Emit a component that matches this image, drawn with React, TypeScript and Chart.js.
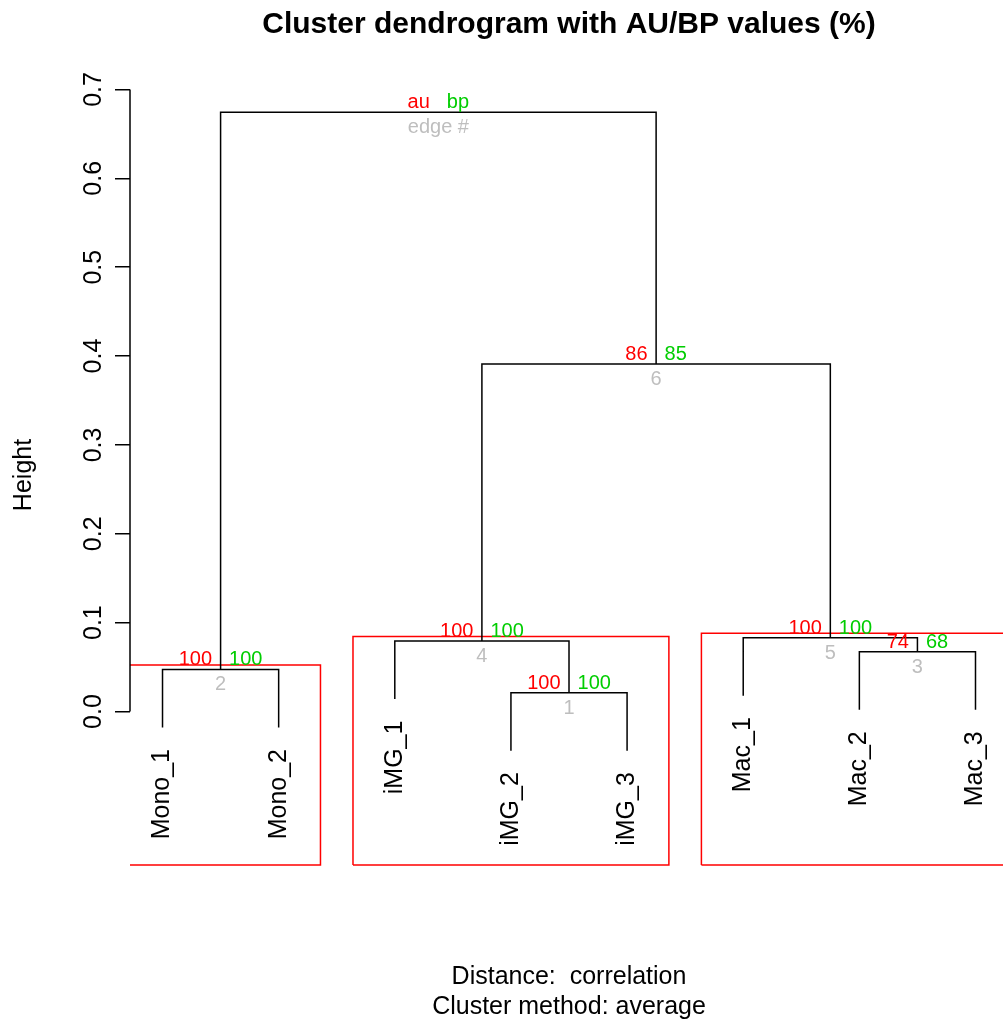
import { useEffect, useRef } from 'react';
import { Chart, registerables } from 'chart.js';

Chart.register(...registerables);

// Leaves in dendrogram order (left to right)
const leafLabels = ['Mono_1', 'Mono_2', 'iMG_1', 'iMG_2', 'iMG_3', 'Mac_1', 'Mac_2', 'Mac_3'];

// hclust-style merge table: negative = leaf index (1-based), positive = earlier merge (1-based)
const mergeLeft = [-4, -1, -7, -3, -6, 4, 2];
const mergeRight = [-5, -2, -8, 1, 3, 5, 6];
const mergeHeight = [0.0212, 0.0473, 0.0673, 0.0793, 0.0831, 0.391, 0.6743];

// Approximately unbiased / bootstrap probabilities (%) and edge numbers per merge
const auValues = [100, 100, 74, 100, 100, 86];
const bpValues = [100, 100, 68, 100, 100, 85];
const edgeNumbers = [1, 2, 3, 4, 5, 6];

// Root carries the legend of the three label kinds
const legendLabels = ['au', 'bp', 'edge #'];

// Merges highlighted with rectangles (clusters with au >= 95)
const highlightedMerges = [2, 4, 5];

const yTickValues = [0, 0.1, 0.2, 0.3, 0.4, 0.5, 0.6, 0.7];
const yTickLabels = ['0.0', '0.1', '0.2', '0.3', '0.4', '0.5', '0.6', '0.7'];

const titleText = 'Cluster dendrogram with AU/BP values (%)';
const yAxisTitle = 'Height';
const subLines = ['Distance:  correlation', 'Cluster method: average'];

const FONT = '"Liberation Sans", Arial, Helvetica, sans-serif';
const RED = '#FF0000';
const GREEN = '#00CD00';
const GREY = '#BEBEBE';

const W = 1003;
const H = 1021;

function nodeX(ref: number): number {
  if (ref < 0) return -ref;
  const i = ref - 1;
  return (nodeX(mergeLeft[i]) + nodeX(mergeRight[i])) / 2;
}

function leavesOf(ref: number): number[] {
  if (ref < 0) return [-ref];
  const i = ref - 1;
  return [...leavesOf(mergeLeft[i]), ...leavesOf(mergeRight[i])];
}

export default function App() {
  const canvasRef = useRef<HTMLCanvasElement | null>(null);

  useEffect(() => {
    const canvas = canvasRef.current;
    if (!canvas) return;

    const hang = 0.1 * (Math.max(...mergeHeight) - Math.min(...mergeHeight));
    const childBottom = (ref: number, parentH: number) =>
      ref < 0 ? parentH - hang : mergeHeight[ref - 1];

    // One U-shaped link per merge
    const linkSets = mergeHeight.map((h, i) => {
      const l = mergeLeft[i];
      const r = mergeRight[i];
      return {
        label: `merge ${i + 1}`,
        data: [
          { x: nodeX(l), y: childBottom(l, h) },
          { x: nodeX(l), y: h },
          { x: nodeX(r), y: h },
          { x: nodeX(r), y: childBottom(r, h) },
        ],
        showLine: true,
        borderColor: '#000000',
        borderWidth: 1.5,
        pointRadius: 0,
        tension: 0,
        fill: false,
      };
    });

    // Rectangles around supported clusters
    const padX = 0.36;
    const padTop = 0.005;
    const rectBottom = -0.1727;
    const rectSets = highlightedMerges.map((m) => {
      const leaves = leavesOf(m);
      const xl = Math.min(...leaves) - padX;
      const xr = Math.max(...leaves) + padX;
      const yt = mergeHeight[m - 1] + padTop;
      return {
        label: `cluster ${m}`,
        data: [
          { x: xl, y: rectBottom },
          { x: xl, y: yt },
          { x: xr, y: yt },
          { x: xr, y: rectBottom },
          { x: xl, y: rectBottom },
        ],
        showLine: true,
        borderColor: RED,
        borderWidth: 1.5,
        pointRadius: 0,
        tension: 0,
        fill: false,
      };
    });

    const textPlugin = {
      id: 'dendroText',
      afterDatasetsDraw(chart: any) {
        const ctx = chart.ctx as CanvasRenderingContext2D;
        const xs = chart.scales.x;
        const ys = chart.scales.y;
        const px = (v: number) => xs.getPixelForValue(v);
        const py = (v: number) => ys.getPixelForValue(v);

        ctx.save();

        // y axis line over the tick range
        ctx.strokeStyle = '#000';
        ctx.lineWidth = 1.5;
        ctx.beginPath();
        ctx.moveTo(chart.chartArea.left, py(yTickValues[0]));
        ctx.lineTo(chart.chartArea.left, py(yTickValues[yTickValues.length - 1]));
        ctx.stroke();

        // rotated tick labels
        ctx.fillStyle = '#000';
        ctx.font = `25px ${FONT}`;
        ctx.textAlign = 'center';
        ctx.textBaseline = 'alphabetic';
        yTickValues.forEach((v, i) => {
          ctx.save();
          ctx.translate(101, py(v));
          ctx.rotate(-Math.PI / 2);
          ctx.fillText(yTickLabels[i], 0, 0);
          ctx.restore();
        });

        // leaf labels hanging below the leaves
        ctx.textAlign = 'right';
        ctx.textBaseline = 'middle';
        leafLabels.forEach((lab, i) => {
          // find parent merge height of this leaf
          const leafRef = -(i + 1);
          const pi = mergeLeft.findIndex((r, k) => r === leafRef || mergeRight[k] === leafRef);
          const bottom = mergeHeight[pi] - hang;
          ctx.save();
          ctx.translate(px(i + 1), py(bottom) + 21.5);
          ctx.rotate(-Math.PI / 2);
          ctx.fillText(lab, 0, 0);
          ctx.restore();
        });

        // au / bp / edge labels at each merge
        ctx.font = `20px ${FONT}`;
        ctx.textBaseline = 'alphabetic';
        const off = 8.5;
        mergeHeight.forEach((h, i) => {
          const x = px(nodeX(i + 1));
          const y = py(h);
          const isRoot = i === mergeHeight.length - 1;
          const au = isRoot ? legendLabels[0] : String(auValues[i]);
          const bp = isRoot ? legendLabels[1] : String(bpValues[i]);
          const ed = isRoot ? legendLabels[2] : String(edgeNumbers[i]);
          ctx.fillStyle = RED;
          ctx.textAlign = 'right';
          ctx.fillText(au, x - off, y - 4);
          ctx.fillStyle = GREEN;
          ctx.textAlign = 'left';
          ctx.fillText(bp, x + off, y - 4);
          ctx.fillStyle = GREY;
          ctx.textAlign = 'center';
          ctx.fillText(ed, x, y + 21);
        });

        // title, axis title, sub lines
        const cx = (px(0.72) + px(8.28)) / 2;
        ctx.fillStyle = '#000';
        ctx.textAlign = 'center';
        ctx.textBaseline = 'alphabetic';
        ctx.font = `bold 30px ${FONT}`;
        ctx.fillText(titleText, cx, 33);

        ctx.font = `25px ${FONT}`;
        ctx.save();
        ctx.translate(31, 475);
        ctx.rotate(-Math.PI / 2);
        ctx.fillText(yAxisTitle, 0, 0);
        ctx.restore();

        ctx.fillText(subLines[0], cx, 984);
        ctx.fillText(subLines[1], cx, 1014);

        ctx.restore();
      },
    };

    const chart = new Chart(canvas, {
      type: 'scatter',
      data: { datasets: [...linkSets, ...rectSets] as any },
      options: {
        animation: false,
        responsive: false,
        devicePixelRatio: 1,
        layout: { padding: { top: 60, bottom: H - 880, left: 0, right: 0 } },
        plugins: {
          legend: { display: false },
          title: { display: false },
          tooltip: { enabled: false },
        },
        scales: {
          x: {
            type: 'linear',
            display: false,
            min: 0.72,
            max: 0.72 + (W - 130) / 116.14,
          },
          y: {
            type: 'linear',
            position: 'left',
            min: -(880 - 711.5) / 888.6,
            max: (711.5 - 60) / 888.6,
            afterBuildTicks: (scale: any) => {
              scale.ticks = yTickValues.map((v) => ({ value: v }));
            },
            afterFit: (scale: any) => {
              scale.width = 130;
            },
            ticks: { display: false },
            grid: {
              drawOnChartArea: false,
              drawTicks: true,
              tickLength: 15,
              color: '#000',
              lineWidth: 1.5,
            },
            border: { display: false },
          },
        },
      } as any,
      plugins: [textPlugin],
    });

    return () => {
      chart.destroy();
    };
  }, []);

  return (
    <div style={{ position: 'absolute', left: 0, top: 0, width: W, height: H, background: '#fff' }}>
      <canvas ref={canvasRef} width={W} height={H} style={{ display: 'block' }} />
    </div>
  );
}
